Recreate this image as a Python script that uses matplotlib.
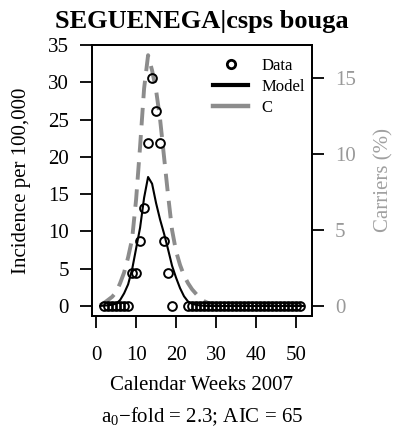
import numpy as np
import matplotlib
matplotlib.use("Agg")
import matplotlib.pyplot as plt

plt.rcParams['font.family'] = ['Liberation Serif', 'DejaVu Serif']
plt.rcParams['mathtext.fontset'] = 'custom'
plt.rcParams['mathtext.rm'] = 'Liberation Serif'
plt.rcParams['mathtext.it'] = 'Liberation Serif:italic'

# observed incidence (per 100,000) by calendar week
data_weeks = list(range(2, 20)) + list(range(23, 52))
data_vals = [0, 0, 0, 0, 0, 0, 0, 4.4, 4.4, 8.7, 13.1, 21.8, 30.6, 26.2, 21.8, 8.7, 4.4, 0] + [0] * 29

# model incidence by week
model_weeks = list(range(1, 53))
model_vals = [0.02, 0.05, 0.1, 0.18, 0.3, 0.8, 1.7, 2.9, 4.9, 7.7, 10.5, 14.5, 17.3,
              16.4, 13.8, 11.6, 9.7, 7.6, 5.4, 3.8, 2.4, 1.3, 0.6, 0.3, 0.15, 0.08,
              0.03, 0.01] + [0] * 24

# carriers (%) by week
c_weeks = list(range(1, 53))
c_vals = [0.05, 0.2, 0.4, 0.6, 0.9, 1.5, 2.2, 3.2, 4.4, 7.0, 10.5, 14.3, 16.5,
          15.5, 14.2, 12.3, 9.8, 7.3, 5.0, 3.6, 2.7, 2.0, 1.5, 1.1, 0.8, 0.5,
          0.32, 0.2, 0.15, 0.12] + [0.1] * 22

grey = '#8c8c8c'
fs = 15
fig = plt.figure(figsize=(3.95, 4.32), dpi=100)
ax = fig.add_axes([92 / 395, 116 / 432, 220 / 395, 271 / 432])
ax2 = ax.twinx()

ax2.plot(c_weeks, c_vals, color=grey, lw=2.8, dashes=(4.5, 2.5), solid_capstyle='butt')
ax.plot(model_weeks, model_vals, color='black', lw=1.5)
ax.plot(data_weeks, data_vals, 'o', mfc='none', mec='black', mew=1.4, ms=6.3)

ax.set_xlim(-1.04, 54.04)
ax.set_ylim(-1.34, 34.9)
ax2.set_ylim(-0.66, 17.17)
ax.set_zorder(ax2.get_zorder() + 1)
ax.patch.set_visible(False)

ax.set_xticks(range(0, 51, 10))
ax.set_yticks(range(0, 36, 5))
ax2.set_yticks([0, 5, 10, 15])
for a in (ax, ax2):
    for s in a.spines.values():
        s.set_linewidth(1.3)
ax.tick_params(axis='both', length=8.5, width=1.3, labelsize=fs, direction='out')
ax.tick_params(axis='x', pad=13)
ax.tick_params(axis='y', pad=8)
ax2.tick_params(axis='y', length=8.5, width=1.3, labelsize=fs, labelcolor='#999999', pad=8)

ax.set_ylabel('Incidence per 100,000', fontsize=fs, labelpad=12)
ax2.set_ylabel('Carriers (%)', fontsize=fs, color='#a0a0a0', labelpad=13)
ax.set_xlabel('Calendar Weeks 2007\n' + r'a$_0$' + '\u2212fold = 2.3; AIC = 65',
              fontsize=fs, labelpad=8, linespacing=1.6)
ax.set_title('SEGUENEGA|csps bouga', fontsize=19, fontweight='bold', pad=12)

h1, = ax.plot([], [], 'o', mfc='none', mec='black', mew=2, ms=6)
h2, = ax.plot([], [], color='black', lw=3)
h3, = ax.plot([], [], color=grey, lw=3.2)
ax.legend([h1, h2, h3], ['Data', 'Model', 'C'], loc='upper left',
          bbox_to_anchor=(213 / 395, (432 - 58) / 432), bbox_transform=fig.transFigure,
          frameon=False, fontsize=12, handlelength=2.1, handletextpad=0.8,
          labelspacing=0.3, borderpad=0, borderaxespad=0)

fig.savefig('out.png', dpi=100)
